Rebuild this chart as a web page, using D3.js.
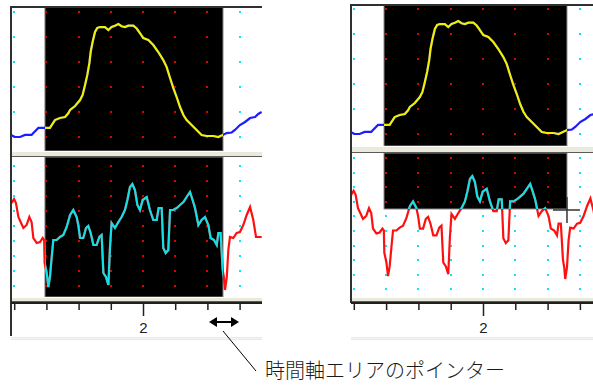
<!DOCTYPE html>
<html><head><meta charset="utf-8">
<script src="https://cdn.jsdelivr.net/npm/d3@7"></script>
<style>body{margin:0;background:#fff}svg{display:block}</style>
</head><body><svg id="c" width="593" height="385"></svg>
<script>
// ---- data (time in s, amplitude in arbitrary units) ----
const topTimes = [1.180,1.205,1.236,1.267,1.308,1.319,1.350,1.371,1.393,1.422,1.453,1.484,1.516,1.536,1.547,1.578,1.609,1.625,1.640,1.654,1.667,1.675,1.687,1.702,1.716,1.733,1.764,1.785,1.805,1.826,1.847,1.867,1.888,1.909,1.940,1.961,1.981,2.002,2.033,2.064,2.095,2.126,2.147,2.168,2.188,2.209,2.230,2.251,2.271,2.302,2.333,2.364,2.395,2.437,2.468,2.495,2.520,2.551,2.571,2.602,2.634,2.665,2.696,2.716,2.737];
const topValues = [1.8,0,0,1.8,1.8,3.5,8,8,8,8,15,16.8,17.7,21,23.9,27.4,32.7,37.2,46,54.9,65.5,75.2,84,92.9,96.5,97.3,97.3,94.7,97.3,98.5,100,98,97.3,98.5,98.5,96,92,87.6,85.8,81.4,75.2,68.1,61.9,52.2,43.4,35.4,26.5,19.5,15,10.6,6.2,1.8,0.9,0.9,0,1.8,3.5,4,6.2,10.6,13.3,16.8,17.7,20.4,22.1];
const botTimes = [1.184,1.199,1.211,1.226,1.240,1.257,1.277,1.294,1.308,1.319,1.340,1.360,1.377,1.386,1.389,1.402,1.412,1.422,1.433,1.443,1.464,1.484,1.505,1.526,1.547,1.567,1.588,1.598,1.609,1.629,1.646,1.660,1.675,1.692,1.712,1.729,1.743,1.754,1.770,1.785,1.795,1.805,1.826,1.847,1.867,1.888,1.903,1.919,1.934,1.950,1.965,1.981,1.998,2.023,2.043,2.064,2.085,2.097,2.116,2.126,2.141,2.157,2.168,2.188,2.209,2.230,2.251,2.271,2.292,2.308,2.323,2.344,2.364,2.385,2.406,2.420,2.441,2.458,2.468,2.482,2.495,2.503,2.509,2.520,2.530,2.540,2.561,2.582,2.602,2.623,2.644,2.665,2.685,2.702,2.737];
const botValues = [87,91,87,73,68,62,65,73,68,52,47,48,52,50,27,17,3,13,33,50,50,53,55,63,75,80,73,65,52,52,62,64,57,45,45,53,55,17,13,5,43,67,62,68,73,80,90,103,106,100,85,80,90,93,80,70,70,82,82,42,37,40,80,80,82,85,88,93,98,90,82,65,70,73,65,52,50,45,57,57,20,12,0,12,40,53,52,57,58,65,75,83,70,53,53];
const tickValues = [1.2,1.4,1.6,1.8,2.0,2.2,2.4,2.6];
const majorTicks = [2];
const tickLabels = ["2"];
const selectionLeft = [1.391, 2.497];
const selectionRight = [1.387, 2.520];
const annotationText = "時間軸エリアのポインター";

// ---- layout ----
const panels = [
  {id:"L", x0:11, x1:262, top:7, topBot:151, botTop:157, botBot:297, axisY:303, axisEnd:337, border:336,
   xr:[143 + (1.2-2)*161, 143 + (2.6-2)*161], topY:[137,24], botY:[290,190],
   dotTop:{s:12, step:25, n:6}, dotBot:{s:166, step:15, n:9}, sel:selectionLeft, selBotEnd:297, arrow:true},
  {id:"R", x0:351, x1:593, top:5, topBot:146, botTop:153, botBot:297, axisY:303, axisEnd:337, border:303,
   xr:[483 + (1.2-2)*161.5, 483 + (2.6-2)*161.5], topY:[134,21], botY:[279,182],
   dotTop:{s:9, step:25, n:6}, dotBot:{s:158, step:14.6, n:10}, sel:selectionRight, selBotEnd:209, cross:true}
];

const svg = d3.select("#c");
const defs = svg.append("defs");
const topData = topTimes.map((t,i)=>[t, topValues[i]]);
const botData = botTimes.map((t,i)=>[t, botValues[i]]);

panels.forEach(p => {
  const x = d3.scaleLinear().domain([1.2, 2.6]).range(p.xr);
  const yT = d3.scaleLinear().domain([0,100]).range(p.topY);
  const yB = d3.scaleLinear().domain([0,100]).range(p.botY);
  const g = svg.append("g");
  const sx0 = x(p.sel[0]), sx1 = x(p.sel[1]);

  const clip = (name, x0, y0, x1, y1) => {
    defs.append("clipPath").attr("id", p.id+name)
      .append("rect").attr("x", x0).attr("y", y0).attr("width", x1-x0).attr("height", y1-y0);
    return `url(#${p.id}${name})`;
  };
  const cTop = clip("t", p.x0, p.top, p.x1, p.topBot);
  const cTopSel = clip("ts", sx0, p.top, sx1, p.topBot);
  const cBot = clip("b", p.x0, p.botTop, p.x1, p.botBot);
  const cBotSel = clip("bs", sx0, p.botTop, sx1, p.selBotEnd);

  // selection rects
  g.append("rect").attr("x", sx0).attr("y", p.top).attr("width", sx1-sx0).attr("height", p.topBot-p.top)
    .attr("fill", "#000").attr("stroke", "#8a8a8a").attr("stroke-width", 1);
  g.append("rect").attr("x", sx0).attr("y", p.botTop).attr("width", sx1-sx0).attr("height", p.selBotEnd-p.botTop)
    .attr("fill", "#000").attr("stroke", "#8a8a8a").attr("stroke-width", 1);

  // grid dots
  const dots = [];
  [[p.dotTop, p.topBot], [p.dotBot, p.selBotEnd]].forEach(([d, selEnd]) => {
    for (let i=0;i<d.n;i++) {
      const yy = d.s + i*d.step;
      tickValues.forEach(t => {
        const xx = x(t);
        const inside = xx > sx0 && xx < sx1 && yy < selEnd;
        dots.push({x:xx, y:yy, c: inside ? "#e00000" : "#00e8ff"});
      });
    }
  });
  g.selectAll(null).data(dots).join("rect")
    .attr("x", d=>Math.round(d.x)-1).attr("y", d=>Math.round(d.y)-1).attr("width",2).attr("height",2)
    .attr("fill", d=>d.c);

  // lines
  const lT = d3.line().x(d=>x(d[0])).y(d=>yT(d[1]));
  const lB = d3.line().x(d=>x(d[0])).y(d=>yB(d[1]));
  g.append("path").attr("d", lT(topData)).attr("clip-path", cTop).attr("fill","none").attr("stroke","#1c1cff").attr("stroke-width",2.2);
  g.append("path").attr("d", lT(topData)).attr("clip-path", cTopSel).attr("fill","none").attr("stroke","#f0f000").attr("stroke-width",2.2);
  g.append("path").attr("d", lB(botData)).attr("clip-path", cBot).attr("fill","none").attr("stroke","#ff1010").attr("stroke-width",2.2);
  g.append("path").attr("d", lB(botData)).attr("clip-path", cBotSel).attr("fill","none").attr("stroke","#10e0e8").attr("stroke-width",2.2);

  // separators
  const sep = (y0, y1) => {
    g.append("rect").attr("x", p.x0).attr("y", y0).attr("width", p.x1-p.x0).attr("height", y1-y0).attr("fill", "#ebe8dc");
    g.append("line").attr("x1", p.x0).attr("x2", p.x1).attr("y1", y0+0.5).attr("y2", y0+0.5).attr("stroke", "#ffffff");
    g.append("line").attr("x1", p.x0).attr("x2", p.x1).attr("y1", y1-0.5).attr("y2", y1-0.5).attr("stroke", "#5a5a5a");
  };
  sep(p.topBot, p.botTop);
  sep(p.botBot, p.axisY - 1);

  // bottom band
  g.append("rect").attr("x", p.x0).attr("y", p.axisEnd).attr("width", p.x1-p.x0).attr("height", 3).attr("fill", "#ece8dc");
  g.append("line").attr("x1", p.x0).attr("x2", p.x1).attr("y1", p.axisEnd+1.5).attr("y2", p.axisEnd+1.5).attr("stroke", "#f8f6f0");

  // borders
  g.append("line").attr("x1", p.x0).attr("x2", p.x1).attr("y1", p.top).attr("y2", p.top).attr("stroke", "#303030").attr("stroke-width", 2);
  g.append("line").attr("x1", p.x0).attr("x2", p.x0).attr("y1", p.top-1).attr("y2", p.border).attr("stroke", "#303030").attr("stroke-width", 2);

  // axis
  const ax = d3.axisBottom(x).tickValues(tickValues).tickSize(7).tickSizeOuter(0)
    .tickFormat(d => { const i = majorTicks.indexOf(Math.round(d*10)/10); return i >= 0 ? tickLabels[i] : ""; });
  const axg = g.append("g").attr("transform", `translate(0,${p.axisY})`).call(ax);
  axg.select(".domain").remove();
  axg.selectAll(".tick line").attr("stroke", "#202020").attr("stroke-width", 1.5)
    .attr("y2", d => majorTicks.includes(Math.round(d*10)/10) ? 13 : 7);
  axg.selectAll(".tick text").attr("y", 25).attr("dy", "0.35em")
    .attr("font-family", "Liberation Sans, Arial, sans-serif").attr("font-size", 15).attr("fill", "#202020");
  g.append("line").attr("x1", p.x0).attr("x2", p.x1).attr("y1", p.axisY).attr("y2", p.axisY)
    .attr("stroke", "#202020").attr("stroke-width", 2);

  if (p.arrow) {
    const ay = 322, a0 = 209, a1 = 239;
    g.append("line").attr("x1", a0+5).attr("x2", a1-5).attr("y1", ay).attr("y2", ay).attr("stroke", "#000").attr("stroke-width", 2);
    g.append("path").attr("d", `M${a0},${ay} L${a0+8},${ay-5} L${a0+8},${ay+5} Z`).attr("fill", "#000");
    g.append("path").attr("d", `M${a1},${ay} L${a1-8},${ay-5} L${a1-8},${ay+5} Z`).attr("fill", "#000");
  }
  if (p.cross) {
    const cx = sx1, cy = 210;
    g.append("line").attr("x1", cx-14).attr("x2", cx+13).attr("y1", cy).attr("y2", cy).attr("stroke", "#333").attr("stroke-width", 1.5);
    g.append("line").attr("x1", cx).attr("x2", cx).attr("y1", cy-13).attr("y2", cy+13).attr("stroke", "#333").attr("stroke-width", 1.5);
  }
});

// annotation
svg.append("line").attr("x1", 223).attr("y1", 331).attr("x2", 256).attr("y2", 371).attr("stroke", "#000").attr("stroke-width", 1);
svg.append("text").attr("x", 265).attr("y", 378).text(annotationText)
  .attr("font-family", "Noto Sans CJK JP, sans-serif").attr("font-size", 20).attr("font-weight", 300).attr("fill", "#1a1a1a");
</script></body></html>
